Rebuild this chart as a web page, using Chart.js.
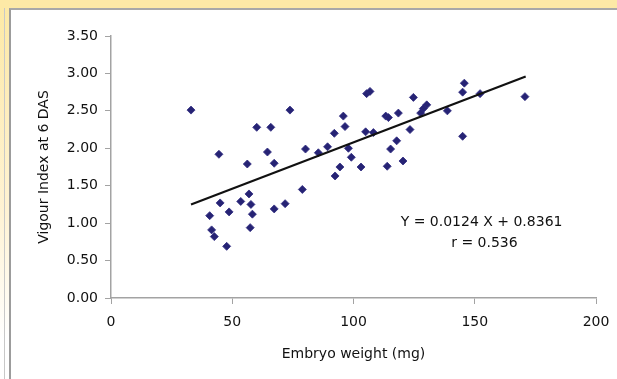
<!DOCTYPE html>
<html>
<head>
<meta charset="utf-8">
<script src="https://cdn.jsdelivr.net/npm/chart.js@4/dist/chart.umd.min.js"></script>
<style>
  html, body { margin: 0; padding: 0; }
  body { width: 617px; height: 379px; position: relative; overflow: hidden; background: #ffffff; }
  #topband { position: absolute; left: 0; top: 0; width: 617px; height: 8px; background: #fde9a6; }
  #leftband { position: absolute; left: 0; top: 8px; width: 9px; height: 371px;
              background: linear-gradient(#fde9a6, #fff3d4 55%, #ffffff 90%); }
  #outerline { position: absolute; left: 4px; top: 8px; width: 1px; height: 371px; background: #c8c8c8; }
  #panel { position: absolute; left: 9px; top: 8px; width: 608px; height: 371px; background: #ffffff;
           border-left: 2px solid #9c9c9c; border-top: 2px solid #a8a8a8; box-sizing: border-box; }
  canvas { position: absolute; left: 0; top: 0; }
</style>
</head>
<body>
<div id="topband"></div>
<div id="leftband"></div>
<div id="outerline"></div>
<div id="panel"></div>
<canvas id="c" width="617" height="379"></canvas>
<script>
// Embryo weight (mg) — x values
const embryoWeight = [
  33.0, 44.5, 56.2, 60.1, 65.9, 64.5, 67.3, 73.8, 80.2, 78.9,
  85.5, 89.3, 92.1, 95.8, 96.5, 97.9, 99.1, 94.4, 92.4, 103.1,
  105.4, 106.8, 105.0, 108.2, 113.3, 114.4, 118.5, 123.3, 117.8, 115.3,
  113.9, 120.4, 124.7, 130.2, 128.8, 127.7, 138.7, 145.7, 145.0, 152.2,
  170.7, 145.0, 56.9, 45.0, 53.5, 57.7, 48.7, 40.7, 58.3, 67.3,
  71.8, 41.5, 42.6, 57.4, 47.7
];
// Vigour Index at 6 DAS — y values
const vigourIndex = [
  2.51, 1.92, 1.79, 2.28, 2.28, 1.95, 1.80, 2.51, 1.99, 1.45,
  1.94, 2.02, 2.20, 2.43, 2.29, 2.00, 1.88, 1.75, 1.63, 1.75,
  2.73, 2.76, 2.22, 2.21, 2.43, 2.41, 2.47, 2.25, 2.10, 1.99,
  1.76, 1.83, 2.68, 2.58, 2.53, 2.47, 2.50, 2.87, 2.75, 2.73,
  2.69, 2.16, 1.39, 1.27, 1.29, 1.25, 1.15, 1.10, 1.12, 1.19,
  1.26, 0.91, 0.82, 0.94, 0.69
];
// Trend line end points as drawn
const trendX = [33, 171];
const trendY = [1.25, 2.96];
// Axis ticks
const xTicks = [0, 50, 100, 150, 200];
const yTicks = [0, 0.5, 1, 1.5, 2, 2.5, 3, 3.5];
// Texts
const equationText = 'Y = 0.0124 X + 0.8361';
const rText = 'r = 0.536';
const xTitle = 'Embryo weight (mg)';
const yTitle = 'Vigour Index at 6 DAS';

const FONT = 'DejaVu Sans';
const FS = 14;
const TEXT_COLOR = '#111111';
const AXIS_COLOR = '#a3a3a3';

const scatterData = embryoWeight.map((x, i) => ({ x: x, y: vigourIndex[i] }));
const trendData = trendX.map((x, i) => ({ x: x, y: trendY[i] }));

const annotationPlugin = {
  id: 'eqText',
  afterDraw(chart) {
    const ctx = chart.ctx;
    const xs = chart.scales.x, ys = chart.scales.y;
    ctx.save();
    ctx.font = FS + 'px "' + FONT + '"';
    ctx.fillStyle = TEXT_COLOR;
    ctx.textAlign = 'center';
    ctx.textBaseline = 'middle';
    ctx.fillText(equationText, xs.getPixelForValue(152.8), ys.getPixelForValue(1.005));
    ctx.fillText(rText, xs.getPixelForValue(154), ys.getPixelForValue(0.73));
    ctx.restore();
  }
};

new Chart(document.getElementById('c'), {
  type: 'scatter',
  data: {
    datasets: [
      {
        type: 'scatter',
        data: scatterData,
        pointStyle: 'rectRot',
        pointRadius: 4,
        pointBackgroundColor: '#262374',
        pointBorderColor: '#2e2b80',
        pointBorderWidth: 0.8,
        order: 2
      },
      {
        type: 'line',
        data: trendData,
        borderColor: '#111111',
        borderWidth: 2.2,
        pointRadius: 0,
        fill: false,
        order: 1
      }
    ]
  },
  options: {
    responsive: false,
    animation: false,
    devicePixelRatio: 1,
    layout: { padding: { left: 0, top: 36, right: 21, bottom: 0 } },
    plugins: { legend: { display: false }, tooltip: { enabled: false } },
    scales: {
      x: {
        type: 'linear',
        position: 'bottom',
        min: 0, max: 200,
        afterBuildTicks: s => { s.ticks = xTicks.map(v => ({ value: v })); },
        afterFit: s => { s.height = 81; s.paddingRight = 0; s.paddingLeft = 0; },
        ticks: { font: { family: FONT, size: FS }, color: TEXT_COLOR, padding: 10, maxRotation: 0 },
        grid: { drawOnChartArea: false, drawTicks: true, tickLength: 6, color: AXIS_COLOR, lineWidth: 1 },
        border: { display: true, color: AXIS_COLOR, width: 1.5 },
        title: { display: true, text: xTitle, font: { family: FONT, size: FS }, color: TEXT_COLOR,
                 padding: { top: 0, bottom: 16 } }
      },
      y: {
        type: 'linear',
        position: 'left',
        min: 0, max: 3.5,
        afterBuildTicks: s => { s.ticks = yTicks.map(v => ({ value: v })); },
        afterFit: s => { s.width = 111; },
        ticks: { font: { family: FONT, size: FS }, color: TEXT_COLOR, padding: 7,
                 callback: v => Number(v).toFixed(2) },
        grid: { drawOnChartArea: false, drawTicks: true, tickLength: 6, color: AXIS_COLOR, lineWidth: 1 },
        border: { display: true, color: AXIS_COLOR, width: 1.5 },
        title: { display: true, text: yTitle, font: { family: FONT, size: FS }, color: TEXT_COLOR,
                 padding: { top: 36, bottom: 0 } }
      }
    }
  },
  plugins: [annotationPlugin]
});
</script>
</body>
</html>
